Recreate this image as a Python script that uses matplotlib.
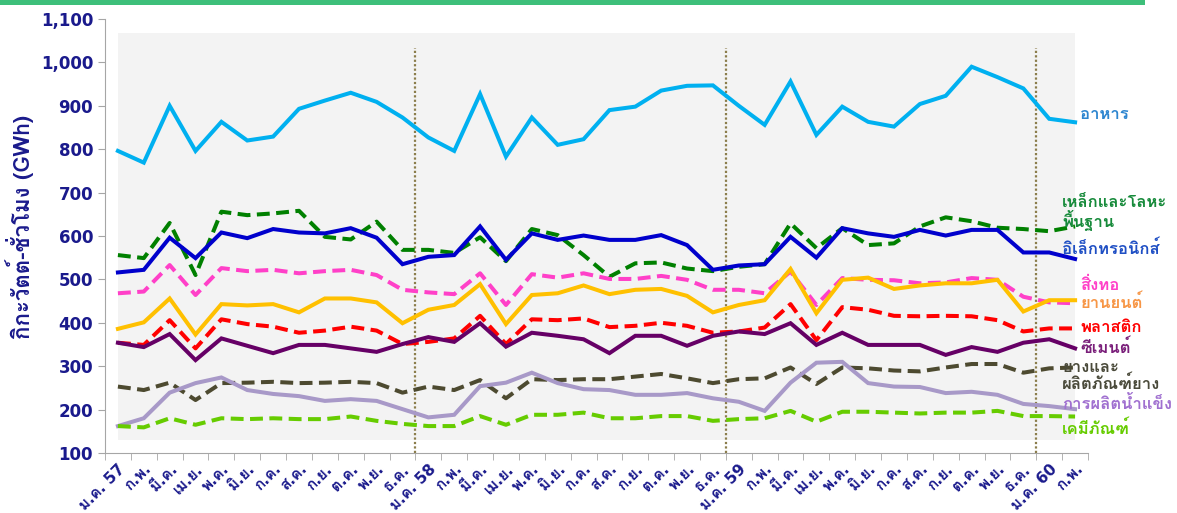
import matplotlib
matplotlib.use("Agg")
from matplotlib import pyplot as plt
from matplotlib import font_manager
from matplotlib.ft2font import FT2Font
from matplotlib.patches import Rectangle
from matplotlib.ticker import FixedLocator, FuncFormatter

# month labels, Jan 2557 .. Feb 2560
months = ["ม.ค. 57", "ก.พ.", "มี.ค.", "เม.ย.", "พ.ค.", "มิ.ย.", "ก.ค.", "ส.ค.", "ก.ย.", "ต.ค.", "พ.ย.", "ธ.ค.",
          "ม.ค. 58", "ก.พ.", "มี.ค.", "เม.ย.", "พ.ค.", "มิ.ย.", "ก.ค.", "ส.ค.", "ก.ย.", "ต.ค.", "พ.ย.", "ธ.ค.",
          "ม.ค. 59", "ก.พ.", "มี.ค.", "เม.ย.", "พ.ค.", "มิ.ย.", "ก.ค.", "ส.ค.", "ก.ย.", "ต.ค.", "พ.ย.", "ธ.ค.",
          "ม.ค. 60", "ก.พ."]

food = [796, 769, 900, 796, 863, 820, 829, 893, 912, 930, 909, 873, 827, 796, 927, 783, 873, 810, 823,
        890, 898, 935, 946, 947, 900, 856, 956, 833, 898, 863, 852, 904, 923, 990, 966, 940, 870, 862]
steel = [556, 549, 630, 510, 656, 648, 652, 658, 598, 592, 633, 568, 568, 561, 597, 542, 616, 602, 556,
         506, 537, 539, 525, 519, 529, 535, 629, 572, 618, 579, 583, 622, 643, 634, 619, 616, 611, 622]
electronics = [516, 522, 596, 549, 608, 595, 616, 608, 606, 618, 596, 535, 552, 556, 622, 545, 606, 591, 601,
               591, 591, 602, 579, 522, 532, 535, 598, 550, 618, 606, 598, 614, 601, 614, 614, 562, 562, 547]
textile = [468, 472, 533, 464, 526, 519, 522, 514, 519, 522, 510, 476, 470, 466, 514, 441, 512, 504, 514,
           501, 501, 508, 499, 476, 476, 468, 518, 441, 503, 499, 498, 491, 493, 503, 499, 460, 447, 445]
auto = [386, 401, 456, 373, 443, 440, 443, 424, 456, 456, 447, 399, 430, 441, 489, 397, 464, 468, 486,
        466, 476, 478, 462, 424, 441, 452, 524, 422, 499, 504, 478, 486, 491, 491, 499, 426, 452, 452]
plastic = [354, 349, 406, 341, 408, 397, 391, 377, 382, 391, 382, 351, 356, 364, 416, 351, 408, 406, 410,
           390, 393, 400, 393, 377, 380, 389, 443, 360, 436, 430, 416, 415, 416, 415, 406, 380, 387, 387]
cement = [354, 344, 374, 314, 364, 347, 330, 349, 349, 341, 333, 351, 367, 356, 399, 345, 377, 370, 362,
          330, 370, 370, 347, 370, 380, 374, 399, 349, 377, 349, 349, 349, 326, 344, 333, 354, 362, 341]
rubber = [253, 245, 262, 222, 261, 262, 264, 261, 262, 264, 261, 239, 253, 245, 268, 226, 270, 268, 270,
          270, 276, 282, 272, 261, 270, 272, 297, 259, 297, 295, 290, 288, 297, 305, 305, 285, 295, 297]
ice = [162, 180, 239, 261, 274, 245, 236, 231, 220, 224, 220, 201, 182, 188, 254, 262, 285, 261, 247,
       245, 234, 234, 238, 226, 218, 197, 262, 308, 310, 261, 253, 252, 238, 241, 234, 213, 208, 201]
chem = [162, 159, 180, 165, 180, 178, 180, 178, 178, 184, 174, 167, 162, 162, 185, 165, 188, 188, 193,
        180, 180, 185, 185, 174, 178, 180, 197, 172, 195, 195, 193, 191, 193, 193, 197, 185, 185, 184]


def find_thai_family():
    for f in font_manager.fontManager.ttflist:
        try:
            if 0x0E01 in FT2Font(f.fname).get_charmap():
                return f.name
        except Exception:
            pass
    return "DejaVu Sans"


thai = find_thai_family()
plt.rcParams["font.family"] = [thai, "DejaVu Sans"]
num_font = ["DejaVu Sans", thai]

navy = "#1a1a8c"
x = list(range(len(months)))

fig = plt.figure(figsize=(11.77, 5.13), dpi=100)
ax = fig.add_axes([0.0892, 0.117, 0.8352, 0.846])

# top decorative band
fig.add_artist(Rectangle((0, 1 - 5 / 513), 1145 / 1177, 5 / 513, transform=fig.transFigure,
                         color="#3dbf7a", lw=0))

ax.add_patch(Rectangle((0, 130), len(months) - 1, 938, color="#f3f3f3", lw=0, zorder=0))

for xv in [11.5, 23.5, 35.5]:
    ax.plot([xv, xv], [100, 1033], color="#8b7d4b", lw=1.6, ls=(0, (1, 1)), zorder=1)

lw = 2.9
series = [
    (food, "#00b0f0", "-"),
    (steel, "#008000", "--"),
    (electronics, "#0000cc", "-"),
    (textile, "#ff40c8", "--"),
    (auto, "#ffc000", "-"),
    (plastic, "#ff0000", "--"),
    (cement, "#660066", "-"),
    (rubber, "#4d4a30", "--"),
    (ice, "#a899c8", "-"),
    (chem, "#66cc00", "--"),
]
for vals, col, ls in series:
    line, = ax.plot(x, vals, color=col, lw=lw, zorder=3, solid_joinstyle="miter")
    if ls == "--":
        line.set_dashes((3.2, 1.6))

labels = [
    (37.2, 879, "อาหาร", "#2e86d0"),
    (36.5, 652, "เหล็กและโลหะ\nพื้นฐาน", "#168a3a"),
    (36.5, 572, "อิเล็กทรอนิกส์", "#1f4fc4"),
    (37.2, 487, "สิ่งทอ", "#ff40c8"),
    (37.2, 448, "ยานยนต์", "#f79646"),
    (37.2, 390, "พลาสติก", "#ff0000"),
    (37.2, 344, "ซีเมนต์", "#7a1f7a"),
    (36.5, 277, "ยางและ\nผลิตภัณฑ์ยาง", "#4a4a3a"),
    (36.5, 215, "การผลิตน้ำแข็ง", "#a070d0"),
    (36.5, 158, "เคมีภัณฑ์", "#66cc00"),
]
for lx, ly, txt, col in labels:
    ax.text(lx, ly, txt, color=col, fontsize=12, fontweight="bold", va="center", ha="left",
            linespacing=1.0, zorder=4, clip_on=False)

ax.set_xlim(-0.5, len(months) - 0.5)
ax.set_ylim(100, 1100)
ax.set_yticks(range(100, 1101, 100))
ax.yaxis.set_major_formatter(FuncFormatter(lambda v, p: f"{int(v):,}"))
ax.set_xticks(x)
ax.set_xticklabels(months, rotation=45, ha="right", rotation_mode="anchor")
ax.xaxis.set_minor_locator(FixedLocator([i - 0.5 for i in range(len(months) + 1)]))
ax.tick_params(axis="x", which="major", length=0, pad=6, labelsize=11, labelcolor=navy)
ax.tick_params(axis="x", which="minor", length=5, color="#a6a6a6")
ax.tick_params(axis="y", length=5, color="#a6a6a6", labelsize=12, labelcolor=navy)
for lab in ax.get_xticklabels() + ax.get_yticklabels():
    lab.set_fontweight("bold")
    lab.set_family(num_font)

for s in ["top", "right"]:
    ax.spines[s].set_visible(False)
for s in ["left", "bottom"]:
    ax.spines[s].set_color("#a6a6a6")

ax.set_ylabel("กิกะวัตต์-ชั่วโมง (GWh)", fontsize=16, fontweight="bold", color=navy)
ax.yaxis.set_label_coords(-0.072, 0.52)

fig.savefig("out.png", dpi=100)
